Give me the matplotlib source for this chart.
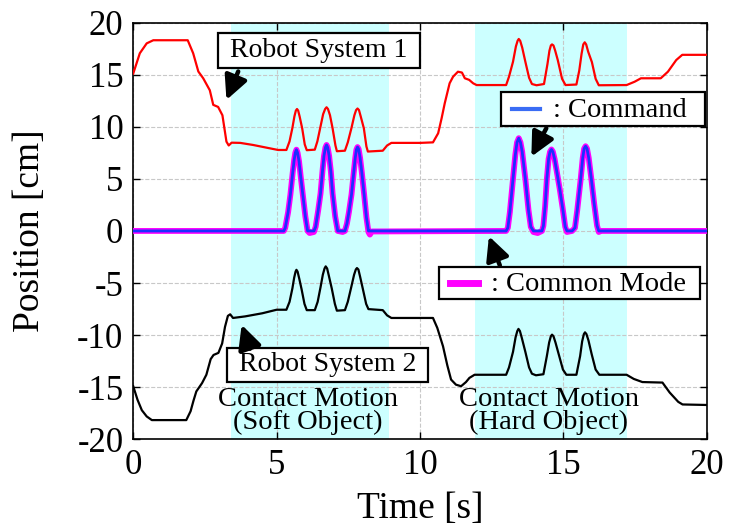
import matplotlib
matplotlib.use("Agg")
import matplotlib.pyplot as plt
from matplotlib.lines import Line2D
from matplotlib.patches import Rectangle

plt.rcParams['font.family'] = ['Liberation Serif', 'DejaVu Serif']
plt.rcParams['axes.unicode_minus'] = False

# Robot System 1 (red)
robot1_t = [0, 0.23, 0.47, 0.7, 1.9, 2.09, 2.27, 2.44, 2.67, 2.79, 2.96, 3.11, 3.25, 3.33,
            3.43, 3.73, 4.18, 4.76, 5.05, 5.34,
            5.45, 5.55, 5.62, 5.67, 5.71, 5.75, 5.8, 5.89, 5.98, 6.05, 6.33,
            6.42, 6.52, 6.62, 6.69, 6.74, 6.79, 6.86, 6.95, 7.05, 7.1, 7.38,
            7.48, 7.61, 7.71, 7.77, 7.82, 7.87, 7.93, 8.04, 8.13, 8.18, 8.7, 8.85, 9.0,
            10.0, 10.45, 10.63, 10.75, 10.86, 11.03, 11.15, 11.32, 11.46, 11.56, 11.71, 11.85, 11.97,
            13.0, 13.1, 13.24, 13.34, 13.4, 13.44, 13.49, 13.56, 13.67, 13.8, 13.9, 14.06,
            14.32, 14.44, 14.51, 14.56, 14.6, 14.65, 14.71, 14.8, 14.95, 15.07,
            15.45, 15.55, 15.63, 15.69, 15.74, 15.79, 15.86, 15.99, 16.12, 16.23,
            17.2, 17.48, 17.7, 18.39, 18.64, 18.93, 19.14, 20.0]
robot1_v = [15.1, 17.05, 18.0, 18.3, 18.3, 17.05, 15.3, 14.65, 13.5, 12.1, 11.9, 11.1, 8.57, 8.2,
            8.47, 8.45, 8.25, 7.93, 7.77, 7.77,
            8.6, 9.9, 11.0, 11.55, 11.7, 11.55, 11.0, 9.85, 8.3, 7.75, 7.8,
            8.6, 9.9, 11.2, 11.7, 11.87, 11.7, 11.1, 9.85, 8.2, 7.65, 7.7,
            8.5, 9.9, 11.1, 11.6, 11.75, 11.6, 11.0, 9.85, 8.1, 7.62, 7.7, 8.2, 8.45,
            8.45, 8.5, 9.37, 10.8, 12.25, 14.17, 14.8, 15.28, 15.2, 14.65, 14.5, 14.17, 14.0,
            14.0, 14.8, 16.24, 17.7, 18.25, 18.42, 18.25, 17.6, 16.24, 14.7, 14.1, 13.98,
            14.1, 16.0, 17.3, 17.8, 17.9, 17.8, 17.3, 16.4, 14.6, 14.0,
            14.05, 15.4, 17.0, 17.9, 18.1, 17.9, 17.2, 16.2, 14.6, 13.98,
            14.0, 14.32, 14.65, 14.65, 15.28, 16.4, 16.9, 16.9]

# Robot System 2 (black)
robot2_t = [0, 0.15, 0.3, 0.47, 0.65, 1.85, 2.0, 2.1, 2.2, 2.4, 2.55, 2.7, 2.8, 2.97, 3.1, 3.2,
            3.3, 3.38, 3.48, 3.9, 4.5, 5.0, 5.34,
            5.45, 5.55, 5.61, 5.66, 5.69, 5.73, 5.79, 5.87, 5.97, 6.05, 6.33,
            6.43, 6.53, 6.61, 6.67, 6.71, 6.76, 6.82, 6.92, 7.03, 7.1, 7.38,
            7.48, 7.6, 7.7, 7.76, 7.8, 7.85, 7.91, 8.0, 8.12, 8.2, 8.7, 8.85, 9.0, 10.45,
            10.6, 10.8, 10.95, 11.08, 11.25, 11.43, 11.6, 11.72, 11.9, 13.0,
            13.1, 13.24, 13.33, 13.39, 13.43, 13.48, 13.55, 13.67, 13.8, 13.9, 14.04,
            14.3, 14.42, 14.5, 14.56, 14.6, 14.65, 14.72, 14.85, 14.98, 15.1,
            15.45, 15.58, 15.65, 15.71, 15.75, 15.8, 15.87, 15.98, 16.12, 16.25,
            17.2, 17.45, 17.75, 18.45, 18.7, 19.0, 19.15, 20.0]
robot2_v = [-14.9, -16.2, -17.2, -17.8, -18.15, -18.15, -17.3, -16.3, -15.4, -14.6, -13.8, -12.3,
            -11.9, -11.7, -10.8, -9.2, -8.15, -8.0, -8.35, -8.2, -7.9, -7.56, -7.56,
            -6.8, -5.5, -4.5, -3.9, -3.73, -3.9, -4.6, -5.6, -7.0, -7.6, -7.6,
            -6.8, -5.4, -4.2, -3.6, -3.4, -3.6, -4.3, -5.5, -7.0, -7.65, -7.6,
            -6.8, -5.4, -4.2, -3.7, -3.56, -3.7, -4.4, -5.5, -7.0, -7.5, -7.6, -8.1, -8.35, -8.35,
            -9.3, -11.07, -12.9, -14.26, -14.75, -14.9, -14.5, -14.1, -13.8, -13.8,
            -13.1, -11.6, -10.2, -9.6, -9.4, -9.6, -10.3, -11.6, -13.1, -13.7, -13.85,
            -13.75, -12.0, -10.7, -10.1, -9.95, -10.1, -10.7, -12.0, -13.3, -13.8,
            -13.8, -12.0, -10.6, -9.9, -9.73, -9.9, -10.5, -11.8, -13.3, -13.8,
            -13.8, -14.2, -14.5, -14.55, -15.5, -16.4, -16.65, -16.7]

# Command and common mode (overlapping)
mode_t = [0, 5.25, 5.3, 5.4, 5.48, 5.56, 5.61, 5.65, 5.69, 5.73, 5.78, 5.84, 5.92, 6.0, 6.08, 6.15, 6.3,
          6.36, 6.45, 6.53, 6.6, 6.65, 6.7, 6.74, 6.78, 6.83, 6.89, 6.95, 7.04, 7.13, 7.3,
          7.38, 7.45, 7.52, 7.61, 7.68, 7.74, 7.78, 7.82, 7.86, 7.91, 7.97, 8.05, 8.13, 8.2, 8.25, 8.32,
          13.0, 13.06, 13.13, 13.24, 13.32, 13.38, 13.44, 13.5, 13.56, 13.67, 13.78, 13.86, 13.95,
          14.1, 14.25,
          14.3, 14.36, 14.42, 14.48, 14.53, 14.58, 14.63, 14.69, 14.76, 14.87, 14.97, 15.06, 15.12,
          15.3,
          15.4, 15.48, 15.6, 15.67, 15.72, 15.77, 15.82, 15.88, 15.97, 16.07, 16.17, 16.23, 16.3,
          20.0]
common_v = [0, 0, 0.3, 1.8, 3.5, 5.6, 6.8, 7.5, 7.8, 7.5, 6.7, 5.2, 3.3, 1.4, 0.0, -0.2, -0.1,
            0.4, 2.0, 3.6, 5.8, 7.2, 8.0, 8.25, 8.0, 7.2, 5.7, 3.6, 1.4, 0.0, -0.1,
            0.0, 0.7, 1.8, 3.5, 5.4, 7.0, 7.8, 8.05, 7.85, 7.0, 5.6, 3.5, 1.3, -0.1, -0.35, -0.05,
            0, 0.3, 1.8, 5.0, 7.3, 8.5, 8.9, 8.5, 7.6, 5.0, 2.0, 0.4, -0.1,
            -0.2, 0.0,
            0.5, 2.4, 5.0, 6.9, 7.6, 7.82, 7.6, 6.9, 5.8, 4.0, 2.2, 0.4, -0.1,
            0.0,
            0.3, 2.0, 5.0, 7.0, 7.9, 8.13, 7.9, 7.0, 5.0, 2.6, 0.5, -0.1, 0.0,
            0]
command_v = [0, 0, 0.3, 1.8, 3.5, 5.6, 6.8, 7.5, 7.8, 7.5, 6.7, 5.2, 3.3, 1.4, 0.0, 0.0, 0.0,
             0.4, 2.0, 3.6, 5.8, 7.2, 8.0, 8.25, 8.0, 7.2, 5.7, 3.6, 1.4, 0.0, 0.0,
             0.0, 0.7, 1.8, 3.5, 5.4, 7.0, 7.8, 8.05, 7.85, 7.0, 5.6, 3.5, 1.3, 0.0, 0.0, 0.0,
             0, 0.3, 1.8, 5.0, 7.3, 8.5, 8.9, 8.5, 7.6, 5.0, 2.0, 0.4, 0.0,
             0.0, 0.0,
             0.5, 2.4, 5.0, 6.9, 7.6, 7.82, 7.6, 6.9, 5.8, 4.0, 2.2, 0.4, 0.0,
             0.0,
             0.3, 2.0, 5.0, 7.0, 7.9, 8.13, 7.9, 7.0, 5.0, 2.6, 0.5, 0.0, 0.0,
             0]

contact_spans = [(3.4, 8.93), (11.9, 17.2)]
contact_labels = ["Contact Motion\n(Soft Object)", "Contact Motion\n(Hard Object)"]
x_ticks = [0, 5, 10, 15, 20]
y_ticks = [-20, -15, -10, -5, 0, 5, 10, 15, 20]

fig = plt.figure(figsize=(7.36, 5.30), dpi=100)
ax = fig.add_axes([0.181, 0.171, 0.7795, 0.7865])

for (a, b) in contact_spans:
    ax.axvspan(a, b, color='#ccffff', zorder=0, lw=0)

ax.plot(robot1_t, robot1_v, color='#ff0000', lw=1.6, zorder=3)
ax.plot(robot2_t, robot2_v, color='black', lw=1.6, zorder=3)
ax.plot(mode_t, common_v, color='#ff00ff', lw=4.2, zorder=4, solid_joinstyle='round')
ax.plot(mode_t, command_v, color='#1a2fff', lw=2.0, zorder=5)

ax.set_xlim(0, 20)
ax.set_ylim(-20, 20)
ax.set_xticks(x_ticks)
ax.set_yticks(y_ticks)
ax.grid(True, color='#c8c8c8', linestyle='--', lw=0.8, zorder=1)
ax.set_axisbelow(True)
ax.tick_params(direction='in', top=True, right=True, length=5, width=1,
               labelsize=25, pad=7)
for s in ax.spines.values():
    s.set_linewidth(1.2)

ax.set_xlabel("Time [s]", fontsize=27, labelpad=7)
ax.set_ylabel("Position [cm]", fontsize=27, labelpad=22)


def box_label(x0, y0, x1, y1, text):
    # white framed label, axes coords
    ax.add_patch(Rectangle((x0, y0), x1 - x0, y1 - y0, transform=ax.transAxes,
                           fc='white', ec='black', lw=1.6, zorder=6))
    ax.text((x0 + x1) / 2, (y0 + y1) / 2, text, transform=ax.transAxes,
            ha='center', va='center', fontsize=20, zorder=7)


def key_label(x0, y0, x1, y1, sx0, sx1, tx, text, color, lw):
    # legend-like box: sample line + text
    ax.add_patch(Rectangle((x0, y0), x1 - x0, y1 - y0, transform=ax.transAxes,
                           fc='white', ec='black', lw=1.6, zorder=6))
    ym = (y0 + y1) / 2
    ax.add_line(Line2D([sx0, sx1], [ym, ym], transform=ax.transAxes,
                       color=color, lw=lw, zorder=7))
    ax.text(tx, ym - 0.003, text, transform=ax.transAxes, ha='left', va='center',
            fontsize=20.5, zorder=7)


box_label(0.148, 0.890, 0.500, 0.975, "Robot System 1")
box_label(0.163, 0.137, 0.514, 0.220, "Robot System 2")
key_label(0.6406, 0.7511, 0.9960, 0.8333, 0.6603, 0.7085, 0.7312,
          ": Command", '#3a6cf4', 3)
key_label(0.5326, 0.3362, 0.9885, 0.4144, 0.5523, 0.6017, 0.6237,
          ": Common Mode", '#ff00ff', 5)

arrow = dict(arrowstyle='-|>,head_length=0.65,head_width=0.32', lw=3.2, color='black',
             shrinkA=0, shrinkB=0, mutation_scale=22)
ax.annotate('', xy=(3.25, 12.57), xytext=(3.66, 15.3), arrowprops=arrow, zorder=8)
ax.annotate('', xy=(3.78, -9.0), xytext=(4.07, -11.3), arrowprops=arrow, zorder=8)
ax.annotate('', xy=(13.88, 7.13), xytext=(14.4, 9.85), arrowprops=arrow, zorder=8)
ax.annotate('', xy=(12.4, -0.5), xytext=(12.78, -3.3), arrowprops=arrow, zorder=8)

ax.text(6.1, -17.27, contact_labels[0], ha='center', va='center', fontsize=20.5,
        linespacing=0.85, zorder=7)
ax.text(14.48, -17.27, contact_labels[1], ha='center', va='center', fontsize=20.5,
        linespacing=0.85, zorder=7)

fig.savefig("out.png", dpi=100)
